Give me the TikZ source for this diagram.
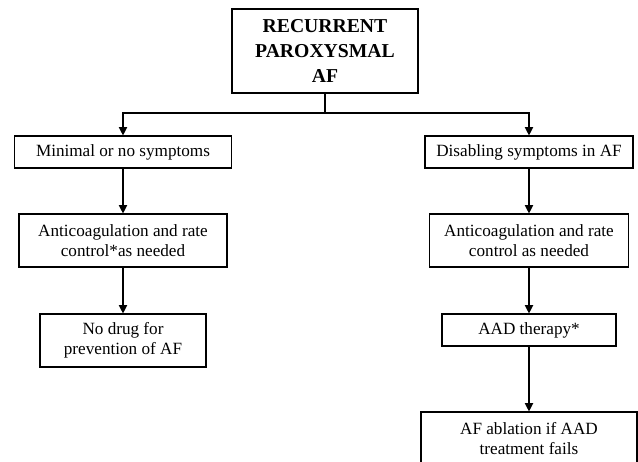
\documentclass[tikz,border=0pt]{standalone}
\usepackage{fontspec}
\setmainfont{Liberation Serif}
\usetikzlibrary{arrows.meta}

\def\px{0.025cm} % one pixel of the reference

\begin{document}
\begin{tikzpicture}[x=\px, y=-\px, line width=0.8pt,
  box/.style={draw, align=center, inner sep=0pt, font=\fontsize{12.2}{14.2}\selectfont},
  arr/.style={-{Triangle[length=6pt,width=6pt]}}]
  % Frame
  \useasboundingbox (0,0) rectangle (638,461);
  % Top box
  \node[box, minimum width=186*\px, minimum height=84*\px,
        font=\fontsize{14}{17.8}\selectfont\bfseries] (recur) at (325,51)
        {RECURRENT\\PAROXYSMAL\\AF};
  \coordinate (split) at (325,113);
  % Left branch
  \node[box, minimum width=217*\px, minimum height=32*\px] (minimal) at (123,152) {Minimal or no symptoms};
  \node[box, minimum width=208*\px, minimum height=53*\px] (anticoagL) at (123,240.5) {Anticoagulation and rate\\control*as needed};
  \node[box, minimum width=166*\px, minimum height=53*\px] (nodrug) at (123,340.5) {No drug for\\prevention of AF};
  % Right branch
  \node[box, minimum width=208*\px, minimum height=32*\px] (disabling) at (529,152) {Disabling symptoms in AF};
  \node[box, minimum width=199*\px, minimum height=53*\px] (anticoagR) at (529,240.5) {Anticoagulation and rate\\control as needed};
  \node[box, minimum width=174*\px, minimum height=32*\px] (aad) at (529,330) {AAD therapy*};
  \node[box, minimum width=216*\px, minimum height=53*\px] (ablation) at (529,438.5) {AF ablation if AAD\\treatment fails};
  % Connectors
  \draw (recur.south) -- (split);
  \draw[arr] (split) -| (minimal.north);
  \draw[arr] (split) -| (disabling.north);
  \draw[arr] (minimal) -- (anticoagL);
  \draw[arr] (anticoagL) -- (nodrug);
  \draw[arr] (disabling) -- (anticoagR);
  \draw[arr] (anticoagR) -- (aad);
  \draw[arr] (aad) -- (ablation);
\end{tikzpicture}
\end{document}
